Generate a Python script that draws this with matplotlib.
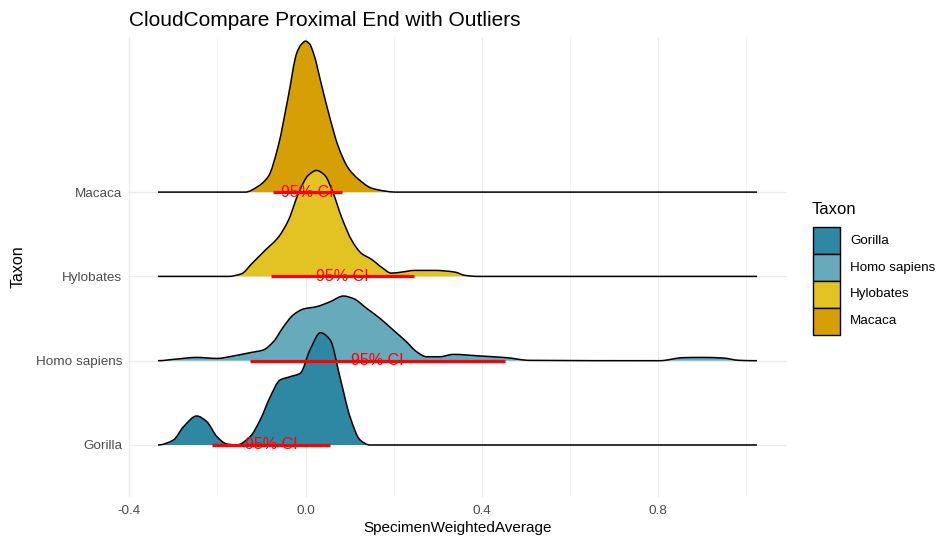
import matplotlib
matplotlib.use("Agg")
import matplotlib.pyplot as plt
from matplotlib.patches import Rectangle, PathPatch
from matplotlib.path import Path
import numpy as np

plt.rcParams['font.family'] = ['Liberation Sans', 'DejaVu Sans']

# taxa from bottom to top
taxa = ["Gorilla", "Homo sapiens", "Hylobates", "Macaca"]
colors = ["#2E87A3", "#67AABB", "#E3C223", "#D69F06"]

# common range of the density curves
x_min, x_max = -0.335, 1.025

# density heights (in ridge-spacing units)
gorilla_x = [-0.300, -0.277, -0.247, -0.224, -0.201, -0.179, -0.156, -0.126, -0.103,
             -0.080, -0.058, -0.035, -0.012, 0.010, 0.034, 0.056, 0.078, 0.101, 0.124, 0.146]
gorilla_h = [0.059, 0.217, 0.344, 0.276, 0.098, 0.012, 0.0, 0.098, 0.297,
             0.573, 0.771, 0.810, 0.851, 1.127, 1.332, 1.246, 0.810, 0.336, 0.059, 0.0]

homo_x = [-0.292, -0.247, -0.201, -0.164, -0.126, -0.096, -0.073, -0.050, -0.028, -0.005,
          0.025, 0.056, 0.086, 0.108, 0.139, 0.169, 0.199, 0.229, 0.252, 0.275, 0.305,
          0.335, 0.396, 0.456, 0.509, 0.804, 0.857, 0.902, 0.947, 0.985]
homo_h = [0.020, 0.039, 0.027, 0.056, 0.095, 0.127, 0.225, 0.403, 0.542, 0.613,
          0.641, 0.700, 0.767, 0.739, 0.620, 0.502, 0.364, 0.225, 0.107, 0.047, 0.047,
          0.075, 0.056, 0.036, 0.004, 0.0, 0.036, 0.039, 0.032, 0.004]

hylo_x = [-0.175, -0.145, -0.122, -0.092, -0.062, -0.039, -0.016, 0.006, 0.025, 0.044,
          0.063, 0.082, 0.105, 0.127, 0.150, 0.173, 0.195, 0.218, 0.248, 0.294, 0.339,
          0.362, 0.391]
hylo_h = [0.0, 0.032, 0.151, 0.308, 0.463, 0.664, 0.985, 1.198, 1.257, 1.198,
          0.985, 0.700, 0.427, 0.273, 0.202, 0.107, 0.039, 0.051, 0.071, 0.071, 0.051,
          0.012, 0.0]

macaca_x = [-0.137, -0.107, -0.084, -0.062, -0.039, -0.020, -0.010, 0.000, 0.009, 0.018,
            0.037, 0.056, 0.074, 0.097, 0.120, 0.150, 0.181, 0.203]
macaca_h = [0.0, 0.071, 0.190, 0.546, 1.139, 1.649, 1.750, 1.791, 1.760, 1.649,
            1.257, 0.866, 0.546, 0.285, 0.154, 0.047, 0.012, 0.0]

density_x = [gorilla_x, homo_x, hylo_x, macaca_x]
density_h = [gorilla_h, homo_h, hylo_h, macaca_h]

# 95% confidence intervals
ci_lo = [-0.213, -0.126, -0.078, -0.073]
ci_hi = [0.056, 0.452, 0.247, 0.082]


def smooth_path(xs, ys):
    """Monotone cubic (Fritsch-Carlson) bezier path through the points."""
    xs = np.asarray(xs, float)
    ys = np.asarray(ys, float)
    h = np.diff(xs)
    d = np.diff(ys) / h
    m = np.zeros(len(xs))
    for k in range(1, len(xs) - 1):
        if d[k - 1] * d[k] > 0:
            w1 = 2 * h[k] + h[k - 1]
            w2 = h[k] + 2 * h[k - 1]
            m[k] = (w1 + w2) / (w1 / d[k - 1] + w2 / d[k])
    verts = [(xs[0], ys[0])]
    codes = [Path.MOVETO]
    for k in range(len(xs) - 1):
        verts += [(xs[k] + h[k] / 3, ys[k] + m[k] * h[k] / 3),
                  (xs[k + 1] - h[k] / 3, ys[k + 1] - m[k + 1] * h[k] / 3),
                  (xs[k + 1], ys[k + 1])]
        codes += [Path.CURVE4] * 3
    return verts, codes


fig = plt.figure(figsize=(9.41, 5.4), dpi=100)
ax = fig.add_axes([128 / 941, 43 / 540, 659 / 941, 460 / 540])

for i, taxon in enumerate(taxa):
    base = i + 1
    xs = np.concatenate([[x_min], density_x[i], [x_max]])
    hs = np.concatenate([[0.0], density_h[i], [0.0]])
    z = 10 - i  # lower ridges sit in front
    verts, codes = smooth_path(xs, base + hs)
    fill_verts = verts + [(x_max, base), (x_min, base), (x_min, base)]
    fill_codes = codes + [Path.LINETO, Path.LINETO, Path.CLOSEPOLY]
    ax.add_patch(PathPatch(Path(fill_verts, fill_codes), facecolor=colors[i],
                           edgecolor='none', zorder=z))
    ax.add_patch(PathPatch(Path(verts, codes), facecolor='none', edgecolor='black',
                           lw=1.1, zorder=z + 0.5, joinstyle='round'))

for i in range(len(taxa)):
    base = i + 1
    ax.plot([ci_lo[i], ci_hi[i]], [base, base], color='red', lw=2.3, zorder=20,
            solid_capstyle='butt')
    ax.text((ci_lo[i] + ci_hi[i]) / 2, base, "95% CI", color='red', fontsize=11.5,
            ha='center', va='center', zorder=21)

ax.set_xlim(-0.403, 1.093)
ax.set_ylim(0.383, 5.84)
ax.set_xticks([-0.4, 0.0, 0.4, 0.8])
ax.set_xticklabels(["-0.4", "0.0", "0.4", "0.8"])
ax.set_xticks([-0.2, 0.2, 0.6, 1.0], minor=True)
ax.set_yticks([1, 2, 3, 4])
ax.set_yticklabels(taxa)
ax.grid(True, which='major', color='#EBEBEB', lw=0.9, zorder=0)
ax.grid(True, which='minor', axis='x', color='#F2F2F2', lw=0.6, zorder=0)
ax.set_axisbelow(True)
for s in ax.spines.values():
    s.set_visible(False)
ax.tick_params(which='both', length=0, labelsize=9.7, labelcolor='#4D4D4D')
ax.tick_params(axis='y', pad=4)
ax.tick_params(axis='x', pad=6)

fig.text(129 / 941, 1 - 20 / 540, "CloudCompare Proximal End with Outliers",
         fontsize=15, ha='left', va='center')
fig.text(457.5 / 941, 1 - 528 / 540, "SpecimenWeightedAverage", fontsize=11,
         ha='center', va='center')
fig.text(18 / 941, 1 - 267 / 540, "Taxon", fontsize=11.5, rotation=90,
         ha='center', va='center')

# legend
fig.text(812 / 941, 1 - 210 / 540, "Taxon", fontsize=12, ha='left', va='center')
for i, taxon in enumerate(taxa):
    top = 227 + 27 * i
    fig.add_artist(Rectangle((813 / 941, 1 - (top + 27) / 540), 27 / 941, 27 / 540,
                             transform=fig.transFigure, facecolor=colors[i],
                             edgecolor='black', lw=1.0))
    fig.text(850 / 941, 1 - (top + 13.5) / 540, taxon, fontsize=9.6,
             ha='left', va='center')

fig.savefig("out.png", dpi=100)
